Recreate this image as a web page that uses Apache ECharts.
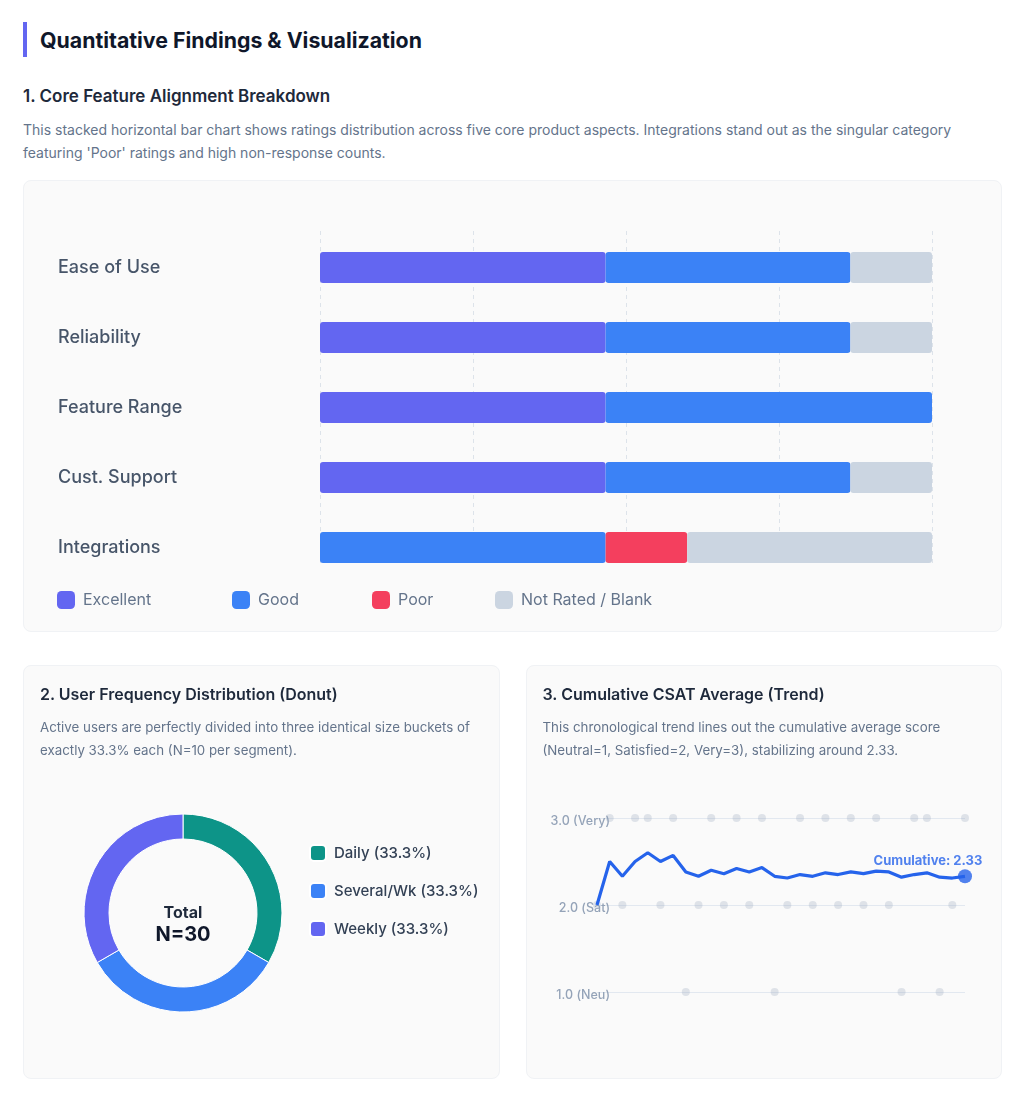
<!DOCTYPE html>
<html>
<head>
<meta charset="utf-8">
<title>Quantitative Findings & Visualization</title>
<script src="https://cdn.jsdelivr.net/npm/echarts@6/dist/echarts.min.js"></script>
<style>
  * { box-sizing: border-box; }
  body { margin: 0; background: #fff; font-family: Inter, "Noto Sans", sans-serif; color: #1e293b; }
  .wrap { width: 1026px; padding: 22px 24px 0 23px; }
  h2 { margin: 0; height: 35px; line-height: 36px; border-left: 4px solid #6366f1; padding-left: 13px;
       font-size: 21.3px; font-weight: 700; color: #0f172a; }
  h3 { margin: 27px 0 0; font-size: 17px; line-height: 24px; font-weight: 600; color: #1e293b; }
  p.desc { margin: 10px 0 0; font-size: 14px; line-height: 23px; color: #64748b; }
  .card { position: relative; background: #fafafa; border: 1px solid #f0f2f5; border-radius: 8px; }
  #card1 { margin-top: 16px; width: 979px; height: 452px; }
  .row { display: flex; gap: 26px; margin-top: 33px; }
  .half { width: 477px; height: 414px; padding: 16px; }
  .half h4 { position: relative; z-index: 2; margin: 0; font-size: 16px; line-height: 24px; font-weight: 600; color: #1e293b; }
  .half p { position: relative; z-index: 2; margin: 10px 0 0; font-size: 13.3px; line-height: 23px; color: #64748b; }
  .chart { position: absolute; left: 0; top: 0; right: 0; bottom: 0; }
</style>
</head>
<body>
<div class="wrap">
  <h2>Quantitative Findings &amp; Visualization</h2>
  <h3>1. Core Feature Alignment Breakdown</h3>
  <p class="desc">This stacked horizontal bar chart shows ratings distribution across five core product aspects. Integrations stand out as the singular category featuring 'Poor' ratings and high non-response counts.</p>
  <div class="card" id="card1"><div class="chart" id="featureChart"></div></div>
  <div class="row">
    <div class="card half">
      <div class="chart" id="freqChart"></div>
      <h4>2. User Frequency Distribution (Donut)</h4>
      <p>Active users are perfectly divided into three identical size buckets of exactly 33.3% each (N=10 per segment).</p>
    </div>
    <div class="card half">
      <div class="chart" id="csatChart"></div>
      <h4>3. Cumulative CSAT Average (Trend)</h4>
      <p>This chronological trend lines out the cumulative average score (Neutral=1, Satisfied=2, Very=3), stabilizing around 2.33.</p>
    </div>
  </div>
</div>
<script>
// ---- data ----
var features = ['Ease of Use', 'Reliability', 'Feature Range', 'Cust. Support', 'Integrations'];
var excellent = [14, 14, 14, 14, 0];
var good      = [12, 12, 16, 12, 14];
var poor      = [0, 0, 0, 0, 4];
var notRated  = [4, 4, 0, 4, 12];

var freqNames  = ['Daily', 'Several/Wk', 'Weekly'];
var freqValues = [10, 10, 10];

// individual responses in order (1 = Neutral, 2 = Satisfied, 3 = Very)
var responses = [2, 3, 2, 3, 3, 2, 3, 1, 2, 3, 2, 3, 2, 3, 1, 2, 3, 2, 3, 2, 3, 2, 3, 2, 1, 3, 3, 1, 2, 3];
var cumulative = [2.00, 2.50, 2.33, 2.50, 2.60, 2.50, 2.57, 2.38, 2.33, 2.40, 2.36, 2.42, 2.38, 2.43, 2.33,
                  2.31, 2.35, 2.33, 2.37, 2.35, 2.38, 2.36, 2.39, 2.38, 2.32, 2.35, 2.37, 2.32, 2.31, 2.33];
var csatTicks = ['1.0 (Neu)', '2.0 (Sat)', '3.0 (Very)'];

// ---- 1. stacked bars ----
var featureChart = echarts.init(document.getElementById('featureChart'));
var barColors = { 'Excellent': '#6366f1', 'Good': '#3b82f6', 'Poor': '#f43f5e', 'Not Rated / Blank': '#cbd5e1' };
var legendLefts = [28, 203, 343, 466];
function barSeries(name, values) {
    return {
        name: name, type: 'bar', stack: 'total', barWidth: 31,
        itemStyle: { color: barColors[name], borderRadius: 3 },
        data: values
    };
}
var barNames = Object.keys(barColors);
featureChart.setOption({
    animation: false,
    // grid 0 holds the bars, grid 1 only draws the dashed guides (they stop at the last bar)
    grid: [
        { left: 296, right: 69, top: 51.5, bottom: 48.5 },
        { left: 296, right: 69, top: 50, bottom: 68 }
    ],
    legend: barNames.map(function (n, i) {
        return {
            data: [n], left: legendLefts[i], top: 405, icon: 'roundRect',
            itemWidth: 18, itemHeight: 18,
            textStyle: { fontSize: 16, color: '#64748b', fontFamily: 'Inter', padding: [0, 0, 0, 3] }
        };
    }),
    xAxis: [
        { type: 'value', min: 0, max: 30, interval: 7.5, show: false, splitLine: { show: false } },
        {
            type: 'value', gridIndex: 1, min: 0, max: 30, interval: 7.5,
            axisLabel: { show: false }, axisLine: { show: false }, axisTick: { show: false },
            splitLine: { lineStyle: { color: '#dde3ea', type: [4, 4] } }
        }
    ],
    yAxis: [
        {
            type: 'category', data: features, inverse: true,
            axisLine: { show: false }, axisTick: { show: false },
            axisLabel: { align: 'left', margin: 262, fontSize: 18, fontWeight: 500, color: '#475569', fontFamily: 'Inter' }
        },
        { type: 'value', gridIndex: 1, show: false, splitLine: { show: false } }
    ],
    series: [
        barSeries('Excellent', excellent),
        barSeries('Good', good),
        barSeries('Poor', poor),
        barSeries('Not Rated / Blank', notRated)
    ]
});

// ---- 2. donut ----
var freqChart = echarts.init(document.getElementById('freqChart'));
var freqTotal = freqValues.reduce(function (a, b) { return a + b; }, 0);
freqChart.setOption({
    animation: false,
    color: ['#0d9488', '#3b82f6', '#6366f1'],
    legend: {
        orient: 'vertical', left: 280, top: 173, itemGap: 20, icon: 'roundRect',
        itemWidth: 16, itemHeight: 16,
        textStyle: { fontSize: 15, lineHeight: 16, fontWeight: 500, color: '#334155', fontFamily: 'Inter', padding: [0, 0, 0, 3] },
        formatter: function (name) {
            var v = freqValues[freqNames.indexOf(name)];
            return name + ' (' + (v / freqTotal * 100).toFixed(1) + '%)';
        }
    },
    graphic: [
        { type: 'text', x: 159, y: 247, style: { text: 'Total', align: 'center', verticalAlign: 'middle',
          font: '700 16px Inter', fill: '#1e293b' } },
        { type: 'text', x: 159, y: 269, style: { text: 'N=' + freqTotal, align: 'center', verticalAlign: 'middle',
          font: '700 20px Inter', fill: '#0f172a' } }
    ],
    series: [{
        type: 'pie', center: [159, 247], radius: [74, 99], startAngle: 90,
        label: { show: false }, labelLine: { show: false },
        itemStyle: { borderColor: '#fff', borderWidth: 1 },
        data: freqNames.map(function (n, i) { return { name: n, value: freqValues[i] }; })
    }]
});

// ---- 3. cumulative trend ----
var csatChart = echarts.init(document.getElementById('csatChart'));
var last = cumulative.length - 1;
csatChart.setOption({
    animation: false,
    grid: { left: 70, right: 37, top: 152, bottom: 86 },
    xAxis: { type: 'value', min: 0, max: last, show: false },
    yAxis: {
        type: 'value', min: 1, max: 3, interval: 1,
        axisLine: { show: false }, axisTick: { show: false },
        axisLabel: {
            margin: -13,
            formatter: function (v) { return '{t|' + csatTicks[v - 1] + '}'; },
            rich: { t: { fontSize: 12.5, fontWeight: 500, color: '#94a3b8', fontFamily: 'Inter', padding: [6, 0, 0, 0] } }
        },
        splitLine: { lineStyle: { color: '#e2e8f0', width: 1 } }
    },
    series: [
        {
            type: 'scatter', symbolSize: 8, silent: true,
            itemStyle: { color: 'rgba(148,163,184,0.34)' },
            data: responses.map(function (v, i) { return [i, v]; })
        },
        {
            type: 'line', symbol: 'none', clip: false,
            lineStyle: { color: '#2563eb', width: 3.2 },
            data: cumulative.map(function (v, i) { return [i, v]; })
        },
        {
            type: 'scatter', symbolSize: 14, clip: false,
            itemStyle: { color: '#2563eb' },
            label: {
                show: true, position: 'top', distance: 2, offset: [-37, 0],
                formatter: 'Cumulative: ' + cumulative[last].toFixed(2),
                color: '#2563eb', fontWeight: 700, fontSize: 13, fontFamily: 'Inter'
            },
            data: [[last, cumulative[last]]]
        }
    ]
});
</script>
</body>
</html>
